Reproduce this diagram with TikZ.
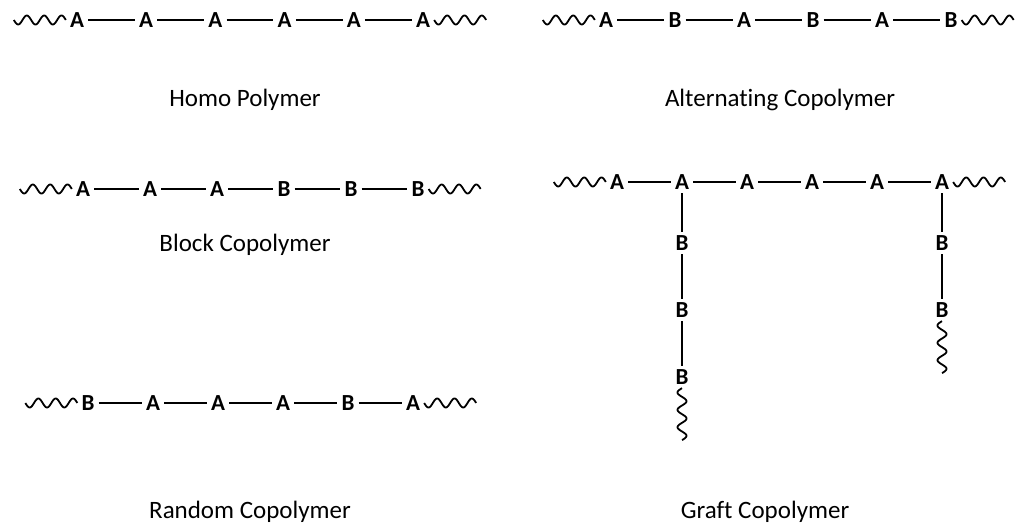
\documentclass[tikz,border=0pt]{standalone}
\usepackage{fontspec}
\setmainfont{Carlito}[Ligatures=NoCommon]

% wavy chain ends (three sine periods, 52pt long)
\newcommand\waveleft[1]{%
  \draw[wave, shift={(#1)}] plot[domain=0:1, samples=90, smooth]
    ({-52+52*\x}, {4.5*sin(3*360*\x)});}
\newcommand\waveright[1]{%
  \draw[wave, shift={(#1)}] plot[domain=0:1, samples=90, smooth]
    ({52*\x}, {4.5*sin(3*360*\x)});}
\newcommand\wavedown[1]{%
  \draw[wave, shift={(#1)}] plot[domain=0:1, samples=90, smooth]
    ({-4.5*sin(3*360*\x)}, {52*\x});}

% one linear chain: name prefix, first x, spacing, y, monomers
\newcommand\chainrow[5]{%
  \foreach \m [count=\i] in {#5} \node[mono] (#1\i) at ({#2+#3*(\i-1)},#4) {\m};
  \foreach \i [evaluate=\i as \j using int(\i+1)] in {1,...,5} \draw[bond] (#1\i) -- (#1\j);
  \waveleft{#11.west}
  \waveright{#16.east}
}

\begin{document}
\begin{tikzpicture}[x=1pt,y=-1pt,
  mono/.style={font=\bfseries\fontsize{23}{23}\selectfont, inner xsep=4pt, inner ysep=3.5pt},
  bond/.style={line width=1.7pt},
  wave/.style={line width=1.8pt, line join=round},
  caption/.style={font=\fontsize{25}{30}\selectfont}]
\useasboundingbox (0,0) rectangle (1032,529);

% homopolymer
\chainrow{h}{77}{69.2}{20}{A,A,A,A,A,A}
\node[caption] (hl) at (245,100) {Homo Polymer};

% alternating copolymer
\chainrow{a}{606}{69}{20}{A,B,A,B,A,B}
\node[caption] (al) at (780,100) {Alternating Copolymer};

% block copolymer
\chainrow{b}{83}{67}{189}{A,A,A,B,B,B}
\node[caption] (bl) at (245,245) {Block Copolymer};

% random copolymer
\chainrow{r}{88}{65}{403}{B,A,A,A,B,A}
\node[caption] (rl) at (250,512) {Random Copolymer};

% graft copolymer: backbone
\chainrow{g}{617}{65}{182}{A,A,A,A,A,A}
% side chain on the second unit
\node[mono] (p1) at (682,243) {B};
\node[mono] (p2) at (682,310) {B};
\node[mono] (p3) at (682,377) {B};
\draw[bond] (g2) -- (p1);
\draw[bond] (p1) -- (p2);
\draw[bond] (p2) -- (p3);
\wavedown{p3.south}
% side chain on the last unit
\node[mono] (q1) at (942,243) {B};
\node[mono] (q2) at (942,310) {B};
\draw[bond] (g6) -- (q1);
\draw[bond] (q1) -- (q2);
\wavedown{q2.south}
\node[caption] (gl) at (765,512) {Graft Copolymer};
\end{tikzpicture}
\end{document}
